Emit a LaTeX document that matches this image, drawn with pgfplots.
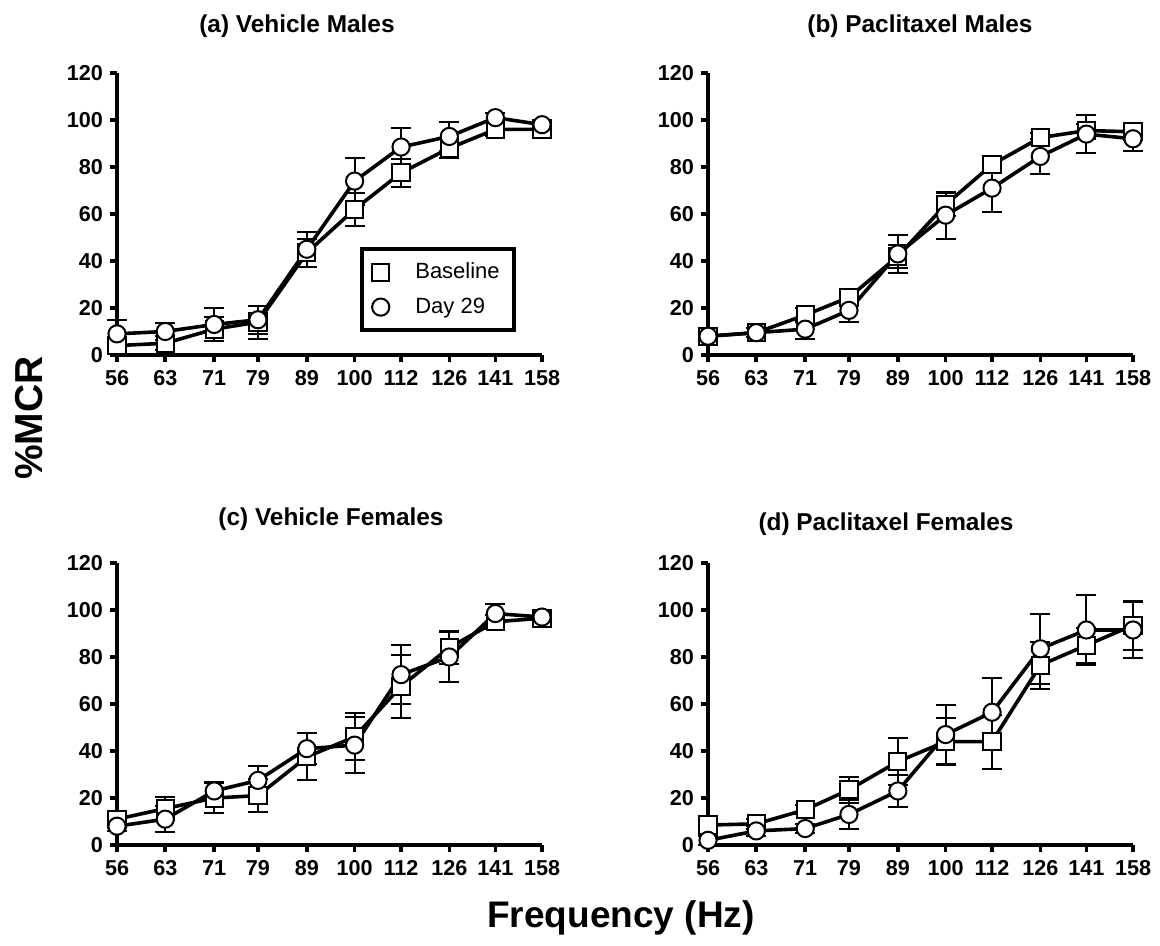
\documentclass[border=0pt]{standalone}
\usepackage{fontspec}
\setmainfont{Liberation Sans}
\usepackage{pgfplots}
\pgfplotsset{compat=1.18}

\pgfplotsset{
    every axis/.append style={
        scale only axis,
        width=212.5pt, height=141pt,
        xmode=log, xmin=56, xmax=158,
        xtick={56,63,71,79,89,100,112,126,141,158},
        xticklabels={56,63,71,79,89,100,112,126,141,158},
        xminorticks=false,
        ymin=0, ymax=120, ytick={0,20,...,120},
        axis x line*=bottom, axis y line*=left,
        axis line style={-, line width=1.8pt},
        tick align=outside, major tick length=3.5pt,
        tick style={line width=1.8pt, black},
        ticklabel style={font=\fontsize{10.8}{12}\selectfont\bfseries},
        xticklabel style={text height=8pt, text depth=0pt},
        clip=false,
    },
    every axis plot/.append style={
        black, line width=1.8pt, mark size=4.3pt,
        mark options={fill=white, draw=black, line width=1pt, solid},
    },
}

\begin{document}
\begin{tikzpicture}
\path (0pt,0pt) rectangle (580pt,-473pt);

% (a) Vehicle Males
\begin{axis}[at={(58.5pt,-177.5pt)}, anchor=south west,
    /pgf/number format/assume math mode=true,
    legend style={at={(0.572,0.383)}, anchor=north west, draw=black,
        line width=2pt, font=\fontsize{11}{12}\selectfont,
        inner xsep=5pt, inner ysep=5pt, row sep=4pt},
    legend cell align=left,
    legend image code/.code={\draw[#1] plot coordinates {(0.3cm,0cm)};}]
\addplot[mark=square*, error bars/.cd, y dir=both, y explicit,
    error bar style={line width=1pt, black}, error mark options={rotate=90, mark size=5pt, line width=1pt, black}]
    table[y error=e] {
x y e
56 4 3
63 5 3
71 11 5
79 14 7
89 43.5 6
100 62 7
112 77.5 6
126 88 4
141 96 3
158 96 2
};
\addlegendentry{\hspace{11pt}Baseline}
\addplot[mark=*, error bars/.cd, y dir=both, y explicit,
    error bar style={line width=1pt, black}, error mark options={rotate=90, mark size=5pt, line width=1pt, black}]
    table[y error=e] {
x y e
56 9 6
63 10 3.5
71 13 7
79 15 6
89 45 7.5
100 74 10
112 88.5 8
126 93 6
141 101 2
158 98 2
};
\addlegendentry{\hspace{11pt}Day 29}
\end{axis}

% (b) Paclitaxel Males
\begin{axis}[at={(354pt,-177.5pt)}, anchor=south west,
    /pgf/number format/assume math mode=true]
\addplot[mark=square*, error bars/.cd, y dir=both, y explicit,
    error bar style={line width=1pt, black}, error mark options={rotate=90, mark size=5pt, line width=1pt, black}]
    table[y error=e] {
x y e
56 8 2
63 9.5 2
71 17 3
79 24.5 3
89 42 5
100 64 5
112 81 3
126 92.5 2
141 95.5 3
158 95 2
};
\addplot[mark=*, error bars/.cd, y dir=both, y explicit,
    error bar style={line width=1pt, black}, error mark options={rotate=90, mark size=5pt, line width=1pt, black}]
    table[y error=e] {
x y e
56 8 2
63 9.5 2
71 11 4
79 19 5
89 43 8
100 59.5 10
112 71 10
126 84.5 7.5
141 94 8
158 92 5
};
\end{axis}

% (c) Vehicle Females
\begin{axis}[at={(58.5pt,-422.5pt)}, anchor=south west,
    /pgf/number format/assume math mode=true]
\addplot[mark=square*, error bars/.cd, y dir=both, y explicit,
    error bar style={line width=1pt, black}, error mark options={rotate=90, mark size=5pt, line width=1pt, black}]
    table[y error=e] {
x y e
56 11 3
63 15.5 5
71 20 6.5
79 21 7
89 37.5 10
100 46 10
112 67.5 13.5
126 84 7
141 95 3
158 96.5 3
};
\addplot[mark=*, error bars/.cd, y dir=both, y explicit,
    error bar style={line width=1pt, black}, error mark options={rotate=90, mark size=5pt, line width=1pt, black}]
    table[y error=e] {
x y e
56 8 2
63 11 5.5
71 23 4
79 27.5 6
89 41 6.5
100 42.5 12
112 72.5 12.5
126 80 10.5
141 98.5 4
158 97 2
};
\end{axis}

% (d) Paclitaxel Females
\begin{axis}[at={(354pt,-422.5pt)}, anchor=south west,
    /pgf/number format/assume math mode=true]
\addplot[mark=square*, error bars/.cd, y dir=both, y explicit,
    error bar style={line width=1pt, black}, error mark options={rotate=90, mark size=5pt, line width=1pt, black}]
    table[y error=e] {
x y e
56 8.5 2
63 9 2
71 15 2
79 23.5 5.5
89 35.5 10
100 44 10
112 44 11.5
126 76.5 10
141 85 7.5
158 93.5 10.5
};
\addplot[mark=*, error bars/.cd, y dir=both, y explicit,
    error bar style={line width=1pt, black}, error mark options={rotate=90, mark size=5pt, line width=1pt, black}]
    table[y error=e] {
x y e
56 2 2
63 6 2
71 7 2
79 13 6
89 23 7
100 47 12.5
112 56.5 14.5
126 83.5 15
141 91.5 15
158 91.5 12
};
\end{axis}

\begin{scope}[every node/.style={font=\fontsize{12.2}{14}\selectfont\bfseries, anchor=base}]
\node at (148.5pt,-16.5pt) {(a) Vehicle Males};
\node at (460pt,-16.5pt) {(b) Paclitaxel Males};
\node at (165.5pt,-262.5pt) {(c) Vehicle Females};
\node at (443pt,-265pt) {(d) Paclitaxel Females};
\end{scope}
\node[rotate=90, font=\fontsize{19.5}{22}\selectfont\bfseries] at (14.5pt,-209pt) {\%MCR};
\node[anchor=base, font=\fontsize{18.5}{21}\selectfont\bfseries] at (310.5pt,-463.5pt) {Frequency (Hz)};
\end{tikzpicture}
\end{document}
